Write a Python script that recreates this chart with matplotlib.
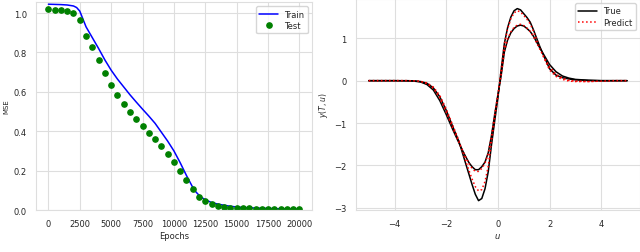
import numpy as np
import matplotlib
matplotlib.use("Agg")
import matplotlib.pyplot as plt
import seaborn as sns

# loss curves
test_epochs = list(range(0, 20001, 500))
test_mse = [1.019, 1.017, 1.017, 1.012, 0.998, 0.966, 0.885, 0.826, 0.762, 0.695,
            0.634, 0.583, 0.540, 0.499, 0.464, 0.427, 0.391, 0.358, 0.324, 0.283,
            0.243, 0.197, 0.152, 0.105, 0.067, 0.044, 0.030, 0.022, 0.017, 0.012,
            0.010, 0.009, 0.008, 0.007, 0.006, 0.006, 0.005, 0.005, 0.004, 0.004, 0.004]
train_epochs = [0, 500, 1000, 1500, 2000, 2250, 2500, 2750, 3000, 3500, 4000, 4500,
                5000, 5500, 6000, 6500, 7000, 7500, 8000, 8500, 9000, 9500, 10000,
                10500, 11000, 11500, 11750, 12000, 12250, 12500, 13000, 13500, 14000,
                14500, 15000, 15500, 16000, 16500, 17000, 17500, 18000, 18500, 19000,
                19500, 20000]
train_mse = [1.045, 1.044, 1.043, 1.041, 1.036, 1.028, 1.010, 0.970, 0.930, 0.875, 0.820, 0.762,
             0.710, 0.665, 0.625, 0.585, 0.548, 0.512, 0.477, 0.440, 0.395, 0.350, 0.300,
             0.240, 0.175, 0.115, 0.092, 0.075, 0.062, 0.052, 0.038, 0.030, 0.024,
             0.019, 0.015, 0.013, 0.011, 0.010, 0.009, 0.008, 0.007, 0.006, 0.006,
             0.005, 0.005]

# solution profiles y(T, u)
u = [-5, -4.5, -4, -3.5, -3.25, -3, -2.75, -2.5, -2.25, -2, -1.75,
     -1.5, -1.375, -1.25, -1.125, -1, -0.875, -0.75, -0.625, -0.5, -0.375, -0.25, -0.125,
     0, 0.125, 0.25, 0.375, 0.5, 0.625, 0.75, 0.875, 1, 1.125, 1.25, 1.375, 1.5, 1.625, 1.75,
     2, 2.25, 2.5, 2.75, 3, 3.5, 4, 4.5, 5]
true_a = [0, 0, 0, 0, -0.005, -0.02, -0.06, -0.17, -0.38, -0.70, -1.08,
          -1.45, -1.70, -1.95, -2.20, -2.45, -2.68, -2.83, -2.78, -2.55, -2.15, -1.52, -0.95,
          -0.40, 0.25, 0.88, 1.25, 1.50, 1.65, 1.70, 1.67, 1.58, 1.49, 1.38, 1.20, 1.00, 0.80, 0.62,
          0.28, 0.13, 0.07, 0.04, 0.02, 0.005, 0, 0, 0]
true_b = [0, 0, 0, -0.005, -0.01, -0.03, -0.09, -0.22, -0.47, -0.80, -1.15,
          -1.48, -1.64, -1.79, -1.93, -2.03, -2.10, -2.10, -2.03, -1.92, -1.70, -1.30, -0.80,
          -0.33, 0.12, 0.68, 0.96, 1.13, 1.23, 1.29, 1.31, 1.29, 1.23, 1.16, 1.05, 0.91, 0.77, 0.64,
          0.38, 0.21, 0.11, 0.06, 0.03, 0.01, 0, 0, 0]
pred_a = [0, 0, 0, 0, -0.005, -0.015, -0.05, -0.15, -0.35, -0.67, -1.05,
          -1.43, -1.66, -1.89, -2.11, -2.32, -2.50, -2.60, -2.57, -2.38, -2.02, -1.45, -0.90,
          -0.37, 0.25, 0.86, 1.22, 1.46, 1.60, 1.65, 1.62, 1.54, 1.45, 1.34, 1.17, 0.97, 0.77, 0.58,
          0.25, 0.10, 0.03, -0.01, -0.02, -0.02, -0.01, 0, 0]
pred_b = [0, 0, 0, 0, -0.005, -0.02, -0.07, -0.18, -0.41, -0.75, -1.12,
          -1.47, -1.64, -1.80, -1.95, -2.07, -2.14, -2.14, -2.07, -1.95, -1.72, -1.31, -0.80,
          -0.32, 0.13, 0.70, 0.98, 1.15, 1.26, 1.31, 1.33, 1.30, 1.24, 1.16, 1.04, 0.89, 0.74, 0.60,
          0.33, 0.15, 0.06, 0.01, -0.01, -0.02, -0.01, 0, 0]


def plotLoss(ax):
    ax.plot(train_epochs, train_mse, color="b", lw=1.1, label="Train")
    ax.plot(test_epochs, test_mse, "o", color="g", markersize=3.8, label="Test")
    ax.set_ylim(0, 1.056)
    ax.set_xticks(np.arange(0, 20001, 2500))
    ax.set_xlabel("Epochs", fontsize=6, labelpad=2)
    ax.set_ylabel("MSE", fontsize=5, labelpad=3)
    ax.legend(loc="upper right", fontsize=6, frameon=True, handlelength=2.2,
              borderpad=0.4, labelspacing=0.3)


def plotSolution(ax):
    ax.plot(u, true_a, color="k", lw=1.1, label="True")
    ax.plot(u, pred_a, ":", color="r", lw=1.1, label="Predict")
    ax.plot(u, true_b, color="k", lw=1.1)
    ax.plot(u, pred_b, ":", color="r", lw=1.1)
    ax.set_xticks([-4, -2, 0, 2, 4])
    ax.set_yticks([-3, -2, -1, 0, 1])
    ax.set_xlabel("$u$", fontsize=6, labelpad=2)
    ax.set_ylabel("$y(T, u)$", fontsize=5.5, labelpad=3)
    ax.legend(loc="upper right", fontsize=6, frameon=True, handlelength=2.2,
              borderpad=0.4, labelspacing=0.3)


if __name__ == "__main__":
    sns.set_style("whitegrid", {"grid.color": "#dedede", "axes.edgecolor": "#dedede"})
    plt.rcParams["font.family"] = ["DejaVu Sans"]
    plt.rcParams["xtick.labelsize"] = 6
    plt.rcParams["ytick.labelsize"] = 6
    fig = plt.figure(figsize=(6.4, 2.53), dpi=100)
    ax1 = fig.add_axes([0.056, 0.166, 0.4315, 0.822])
    ax2 = fig.add_axes([0.556, 0.165, 0.444, 0.835])
    plotLoss(ax1)
    plotSolution(ax2)
    for ax in (ax1, ax2):
        ax.tick_params(pad=3)
    fig.savefig("out.png", dpi=100)
